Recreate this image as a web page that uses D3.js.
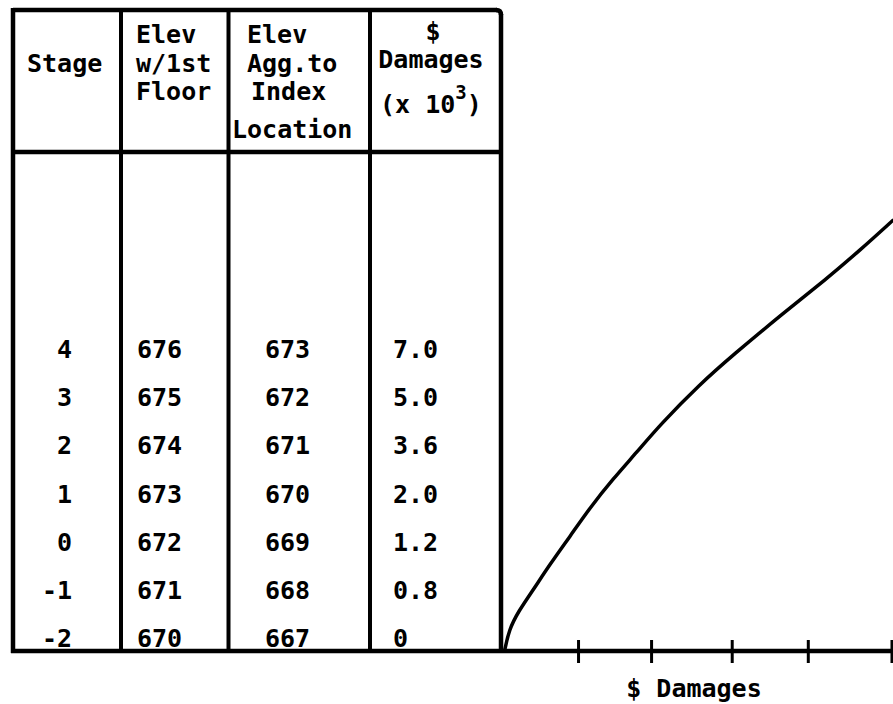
<!DOCTYPE html>
<html>
<head>
<meta charset="utf-8">
<script src="https://cdn.jsdelivr.net/npm/d3@7"></script>
<style>
  body { margin: 0; background: #fff; }
  text { font-family: "DejaVu Sans Mono", monospace; font-weight: bold; fill: #000; }
</style>
</head>
<body>
<svg id="chart" width="893" height="704"></svg>
<script>
// table rows
var stages = [4, 3, 2, 1, 0, -1, -2];
var elevFirstFloor = [676, 675, 674, 673, 672, 671, 670];
var elevIndex = [673, 672, 671, 670, 669, 668, 667];
var damages = ["7.0", "5.0", "3.6", "2.0", "1.2", "0.8", "0"];

// stage-damage curve (damage x 10^3, stage)
var curveDamage = [0, 0.13, 0.43, 0.92, 1.48, 2.14, 2.79, 3.55, 4.34, 5.09, 6.41, 7.49, 9.14, 10.52, 11.67, 12.75];
var curveStage = [-2.04, -1.65, -1.27, -0.82, -0.28, 0.30, 0.89, 1.49, 2.05, 2.61, 3.46, 4.06, 4.93, 5.62, 6.24, 6.86];

// unlabeled ticks on the damage axis
var tickValues = [2.4, 4.8, 7.45, 9.95, 12.7];

var FONT_SIZE = 25;

// Table geometry
var TOP = 10;
var BOTTOM = 651;
var HEADER_LINE = 152;
var COL_LINES = [13, 121, 228.5, 370, 501];

var svg = d3.select('#chart');

var y = d3.scaleLinear().domain([-2, 4]).range([647, 358]);
var x = d3.scaleLinear().domain([0, 12.75]).range([505, 893]);

// ---- table frame
svg.append('line')
  .attr('x1', COL_LINES[0]).attr('x2', COL_LINES[4] - 4)
  .attr('y1', TOP).attr('y2', TOP)
  .attr('stroke', '#000').attr('stroke-width', 4.5);

svg.append('path')
  .attr('d', 'M' + (COL_LINES[4] - 5) + ',' + TOP + ' Q' + COL_LINES[4] + ',' + TOP + ' ' + COL_LINES[4] + ',' + (TOP + 5))
  .attr('fill', 'none').attr('stroke', '#000').attr('stroke-width', 4.5);

svg.selectAll('.col-line')
  .data(COL_LINES)
  .enter()
  .append('line')
    .attr('class', 'col-line')
    .attr('x1', function(d) { return d; })
    .attr('x2', function(d) { return d; })
    .attr('y1', function(d, i) { return i === 4 ? TOP + 4 : TOP - 2; })
    .attr('y2', BOTTOM + 2)
    .attr('stroke', '#000')
    .attr('stroke-width', function(d, i) { return (i === 0 || i === 4) ? 4.5 : 4; });

svg.append('line')
  .attr('x1', COL_LINES[0]).attr('x2', COL_LINES[4])
  .attr('y1', HEADER_LINE).attr('y2', HEADER_LINE)
  .attr('stroke', '#000').attr('stroke-width', 4.5);

// bottom line runs on as the damage axis
svg.append('line')
  .attr('x1', COL_LINES[0] - 2).attr('x2', 893)
  .attr('y1', BOTTOM).attr('y2', BOTTOM)
  .attr('stroke', '#000').attr('stroke-width', 4.5);

// ---- header text
function headerLine(txt, xPos, yPos, anchor) {
  return svg.append('text')
    .attr('x', xPos)
    .attr('y', yPos)
    .attr('text-anchor', anchor || 'start')
    .attr('font-size', FONT_SIZE)
    .text(txt);
}

headerLine('Stage', 27, 72);

headerLine('Elev', 136, 43);
headerLine('w/1st', 136, 72);
headerLine('Floor', 136, 100);

headerLine('Elev', 247, 43);
headerLine('Agg.to', 247, 72);
headerLine('Index', 251, 100);
headerLine('Location', 232, 138);

headerLine('$', 433, 40, 'middle');
headerLine('Damages', 431, 68, 'middle');

var unitText = headerLine('(x 10', 380, 113);
unitText.append('tspan')
  .attr('dy', -14)
  .attr('font-size', 19)
  .text('3');
unitText.append('tspan')
  .attr('dy', 14)
  .text(')');

// ---- table body
function bodyColumn(values, xPos, anchor) {
  svg.selectAll(null)
    .data(values)
    .enter()
    .append('text')
      .attr('x', xPos)
      .attr('y', function(d, i) { return y(stages[i]); })
      .attr('text-anchor', anchor)
      .attr('font-size', FONT_SIZE)
      .text(function(d) { return d; });
}

bodyColumn(stages, 72, 'end');
bodyColumn(elevFirstFloor, 137, 'start');
bodyColumn(elevIndex, 265, 'start');
bodyColumn(damages, 393, 'start');

// ---- damage axis ticks
var axis = d3.axisBottom(x)
  .tickValues(tickValues)
  .tickSize(12)
  .tickSizeOuter(0)
  .tickFormat('');

var axisG = svg.append('g')
  .attr('transform', 'translate(0,' + BOTTOM + ')')
  .call(axis);

axisG.select('.domain').remove();
axisG.selectAll('.tick line')
  .attr('y1', -11)
  .attr('y2', 12)
  .attr('stroke', '#000')
  .attr('stroke-width', 3);

svg.append('text')
  .attr('x', 694)
  .attr('y', 697)
  .attr('text-anchor', 'middle')
  .attr('font-size', FONT_SIZE)
  .text('$ Damages');

// ---- stage-damage curve
var curvePoints = curveDamage.map(function(d, i) { return [d, curveStage[i]]; });

var line = d3.line()
  .x(function(d) { return x(d[0]); })
  .y(function(d) { return y(d[1]); })
  .curve(d3.curveBasis);

svg.append('path')
  .datum(curvePoints)
  .attr('d', line)
  .attr('fill', 'none')
  .attr('stroke', '#000')
  .attr('stroke-width', 3.5)
  .attr('stroke-linecap', 'round');
</script>
</body>
</html>
